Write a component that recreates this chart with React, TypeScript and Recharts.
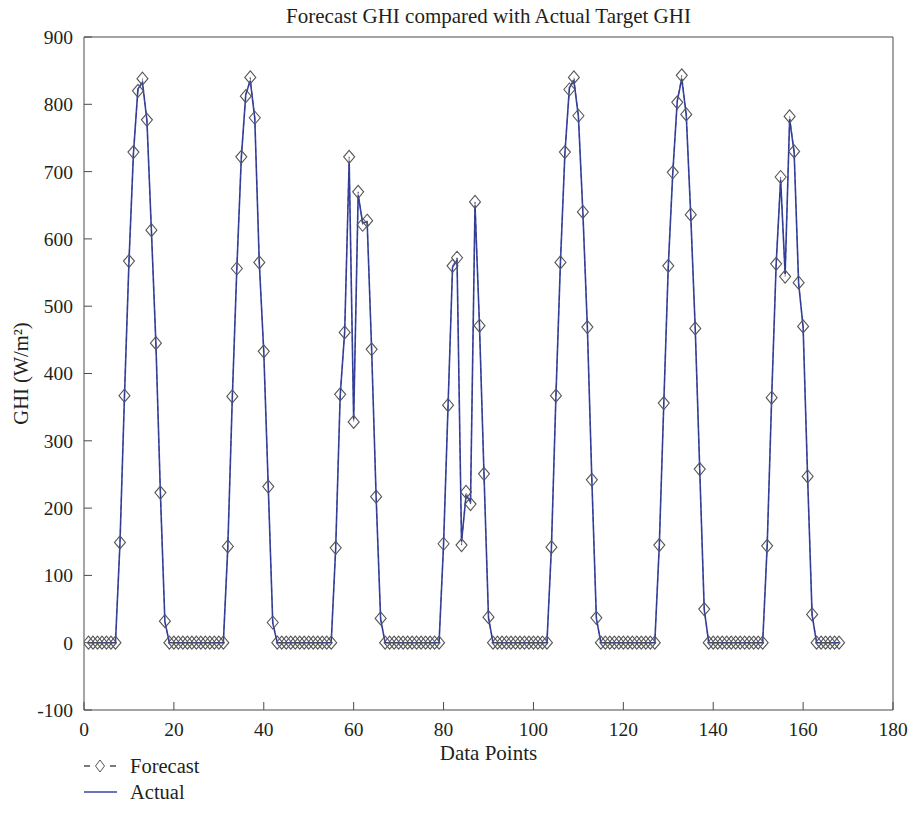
import React from 'react';
import { ComposedChart, Line, XAxis, YAxis, Legend, Label } from 'recharts';

const FONT = '"Liberation Serif", "Times New Roman", serif';
const TEXT = '#231f20';
const AXIS = '#4a4a4a';
const BLUE = '#3846a8';

const title = 'Forecast GHI compared with Actual Target GHI';
const xLabel = 'Data Points';
const yLabel = 'GHI (W/m²)';

const xTicks = [0, 20, 40, 60, 80, 100, 120, 140, 160, 180];
const yTicks = [-100, 0, 100, 200, 300, 400, 500, 600, 700, 800, 900];

// Forecast GHI, data points 1..168
const forecast = [
  0, 0, 0, 0, 0, 0, 0, 149, 367, 567, 729, 820, 838, 777, 613, 445, 223, 32, 0, 0, 0, 0, 0, 0,
  0, 0, 0, 0, 0, 0, 0, 143, 366, 556, 722, 812, 840, 780, 565, 433, 232, 30, 0, 0, 0, 0, 0, 0,
  0, 0, 0, 0, 0, 0, 0, 141, 369, 461, 722, 328, 670, 621, 627, 436, 217, 36, 0, 0, 0, 0, 0, 0,
  0, 0, 0, 0, 0, 0, 0, 147, 353, 560, 572, 145, 224, 206, 655, 471, 251, 38, 0, 0, 0, 0, 0, 0,
  0, 0, 0, 0, 0, 0, 0, 142, 367, 565, 729, 822, 840, 783, 640, 469, 242, 37, 0, 0, 0, 0, 0, 0,
  0, 0, 0, 0, 0, 0, 0, 145, 356, 560, 699, 803, 843, 785, 636, 467, 258, 50, 0, 0, 0, 0, 0, 0,
  0, 0, 0, 0, 0, 0, 0, 144, 364, 563, 692, 544, 782, 730, 535, 470, 247, 42, 0, 0, 0, 0, 0, 0,
];

// Actual target GHI, data points 1..168
const actual = [
  0, 0, 0, 0, 0, 0, 0, 147, 365, 565, 727, 823, 832, 776, 612, 444, 222, 31, 0, 0, 0, 0, 0, 0,
  0, 0, 0, 0, 0, 0, 0, 142, 364, 555, 720, 815, 835, 779, 565, 432, 231, 29, 0, 0, 0, 0, 0, 0,
  0, 0, 0, 0, 0, 0, 0, 140, 367, 462, 715, 332, 665, 624, 625, 435, 216, 35, 0, 0, 0, 0, 0, 0,
  0, 0, 0, 0, 0, 0, 0, 146, 352, 558, 568, 150, 218, 210, 650, 470, 250, 37, 0, 0, 0, 0, 0, 0,
  0, 0, 0, 0, 0, 0, 0, 141, 366, 564, 727, 825, 835, 782, 639, 468, 241, 36, 0, 0, 0, 0, 0, 0,
  0, 0, 0, 0, 0, 0, 0, 144, 355, 559, 698, 805, 838, 784, 635, 466, 257, 49, 0, 0, 0, 0, 0, 0,
  0, 0, 0, 0, 0, 0, 0, 143, 363, 562, 688, 548, 778, 729, 534, 469, 246, 41, 0, 0, 0, 0, 0, 0,
];

const dataPoints = forecast.map((_, i) => i + 1);

const data = dataPoints.map((x, i) => ({ x, forecast: forecast[i], actual: actual[i] }));

const Diamond = (props: any) => {
  const { cx, cy } = props;
  if (cx == null || cy == null || isNaN(cx) || isNaN(cy)) return <g />;
  return (
    <path
      d={`M${cx},${cy - 6.5}L${cx + 5.5},${cy}L${cx},${cy + 6.5}L${cx - 5.5},${cy}Z`}
      fill="none"
      stroke="#565656"
      strokeWidth={1.1}
    />
  );
};

const LegendContent = (props: any) => {
  const payload = props.payload || [];
  const order = ['forecast', 'actual'];
  const items = [...payload].sort(
    (a: any, b: any) => order.indexOf(a.dataKey) - order.indexOf(b.dataKey)
  );
  return (
    <div style={{ fontFamily: FONT, fontSize: 20.5, color: TEXT }}>
      {items.map((it: any) => (
        <div key={it.dataKey} style={{ display: 'flex', alignItems: 'center', height: 26 }}>
          <svg width={40} height={20} style={{ marginRight: 10 }}>
            {it.dataKey === 'forecast' ? (
              <g>
                <line x1={4} y1={10} x2={10} y2={10} stroke="#333" strokeWidth={1.3} />
                <path d="M20,4L24.5,10L20,16L15.5,10Z" fill="none" stroke="#555" strokeWidth={1} />
                <line x1={30} y1={10} x2={36} y2={10} stroke="#333" strokeWidth={1.3} />
              </g>
            ) : (
              <line x1={4} y1={10} x2={37} y2={10} stroke={BLUE} strokeWidth={1.6} />
            )}
          </svg>
          <span>{it.value}</span>
        </div>
      ))}
    </div>
  );
};

const tickStyle = { fill: TEXT, fontSize: 19.5, fontFamily: FONT };

export default function App() {
  return (
    <div style={{ position: 'absolute', left: 0, top: 0, background: '#fff' }}>
      <ComposedChart
        width={916}
        height={831}
        data={data}
        margin={{ top: 36, right: 22, bottom: 61, left: 0 }}
      >
        <XAxis
          dataKey="x"
          type="number"
          domain={[0, 180]}
          ticks={xTicks}
          allowDataOverflow
          height={60}
          tickSize={-8}
          tickMargin={20}
          tick={tickStyle}
          axisLine={{ stroke: AXIS }}
          tickLine={{ stroke: AXIS }}
        >
          <Label
            content={(p: any) => {
              const vb = p.viewBox || {};
              return (
                <text
                  x={vb.x + vb.width / 2}
                  y={vb.y + 50}
                  textAnchor="middle"
                  fill={TEXT}
                  fontSize={21}
                  fontFamily={FONT}
                >
                  {xLabel}
                </text>
              );
            }}
          />
        </XAxis>
        <XAxis
          xAxisId="top"
          orientation="top"
          dataKey="x"
          type="number"
          domain={[0, 180]}
          ticks={xTicks}
          allowDataOverflow
          height={1}
          tickSize={-8}
          tick={false}
          axisLine={{ stroke: AXIS }}
          tickLine={{ stroke: AXIS }}
        >
          <Label
            content={(p: any) => {
              const vb = p.viewBox || {};
              return (
                <text
                  x={vb.x + vb.width / 2}
                  y={vb.y - 13}
                  textAnchor="middle"
                  fill={TEXT}
                  fontSize={21}
                  fontFamily={FONT}
                >
                  {title}
                </text>
              );
            }}
          />
        </XAxis>
        <YAxis
          type="number"
          domain={[-100, 900]}
          ticks={yTicks}
          allowDataOverflow
          width={84}
          tickSize={-8}
          tickMargin={19}
          tick={tickStyle}
          axisLine={{ stroke: AXIS }}
          tickLine={{ stroke: AXIS }}
        >
          <Label
            content={(p: any) => {
              const vb = p.viewBox || {};
              const cx = 28;
              const cy = vb.y + vb.height / 2;
              return (
                <text
                  x={cx}
                  y={cy}
                  transform={`rotate(-90, ${cx}, ${cy})`}
                  textAnchor="middle"
                  fill={TEXT}
                  fontSize={20.5}
                  fontFamily={FONT}
                >
                  {yLabel}
                </text>
              );
            }}
          />
        </YAxis>
        <YAxis
          yAxisId="right"
          orientation="right"
          type="number"
          domain={[-100, 900]}
          ticks={yTicks}
          allowDataOverflow
          width={1}
          tickSize={-8}
          tick={false}
          axisLine={{ stroke: AXIS }}
          tickLine={{ stroke: AXIS }}
        />
        <Legend
          layout="vertical"
          align="center"
          verticalAlign="middle"
          wrapperStyle={{ left: 80, top: 753, width: 200 }}
          content={<LegendContent />}
        />
        <Line
          dataKey="actual"
          name="Actual"
          type="linear"
          stroke={BLUE}
          strokeWidth={1.6}
          dot={false}
          activeDot={false}
          isAnimationActive={false}
        />
        <Line
          dataKey="forecast"
          name="Forecast"
          type="linear"
          stroke="#2b2f6e"
          strokeOpacity={0.6}
          strokeWidth={1}
          strokeDasharray="5 3"
          dot={<Diamond />}
          activeDot={false}
          isAnimationActive={false}
        />
      </ComposedChart>
    </div>
  );
}
